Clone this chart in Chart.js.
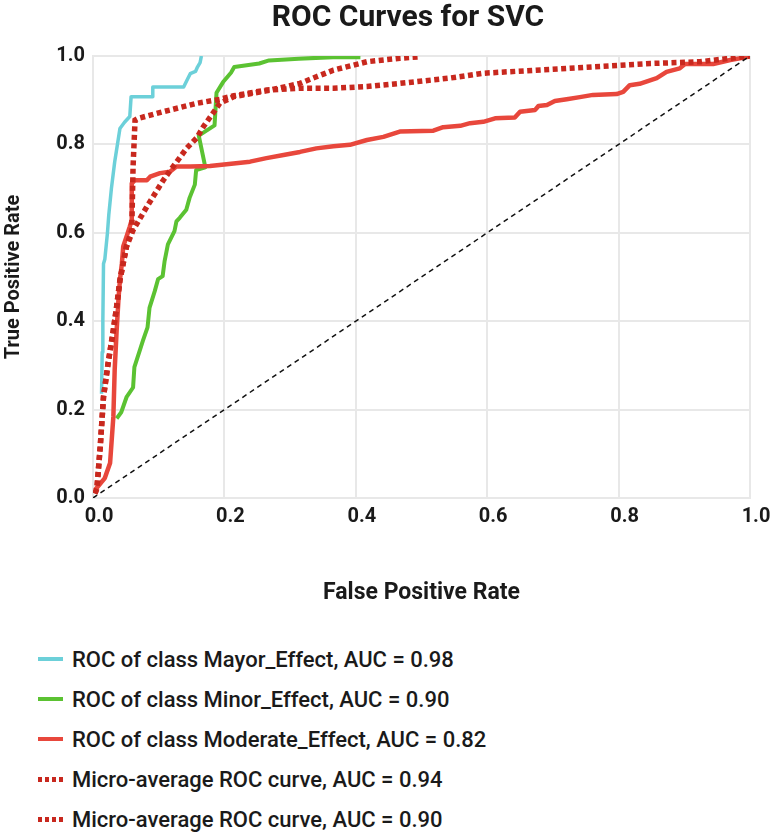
<!DOCTYPE html>
<html>
<head>
<meta charset="utf-8">
<title>ROC Curves for SVC</title>
<script src="https://cdn.jsdelivr.net/npm/chart.js@4.4.0/dist/chart.umd.min.js"></script>
<style>
  body { margin: 0; background: #fff; font-family: Roboto, sans-serif; }
  #wrap { position: relative; width: 780px; height: 833px; }
  #legend { position: absolute; left: 38px; top: 639px; }
  .item { display: flex; align-items: center; height: 40px; }
  .swatch { width: 25px; margin-right: 9px; }
  .item span { font-size: 22px; font-weight: 500; color: #1a1a1a; white-space: nowrap; }
</style>
</head>
<body>
<div id="wrap">
  <canvas id="roc" width="780" height="620"></canvas>
  <div id="legend"></div>
</div>
<script>
// valores (FPR / TPR)
const mayorFpr = [0.013, 0.014, 0.015, 0.016, 0.018, 0.022, 0.024, 0.028, 0.033, 0.041, 0.048, 0.056, 0.058, 0.091, 0.091, 0.138, 0.143, 0.148, 0.156, 0.159, 0.163, 0.165];
const mayorTpr = [0.236, 0.33, 0.40, 0.53, 0.54, 0.60, 0.64, 0.70, 0.76, 0.836, 0.85, 0.863, 0.908, 0.908, 0.93, 0.93, 0.945, 0.96, 0.965, 0.975, 0.985, 1.0];

const minorFpr = [0.036, 0.043, 0.051, 0.061, 0.063, 0.071, 0.076, 0.083, 0.086, 0.094, 0.099, 0.106, 0.109, 0.114, 0.124, 0.127, 0.132, 0.142, 0.147, 0.155, 0.157, 0.171, 0.161, 0.185, 0.188, 0.198, 0.21, 0.215, 0.253, 0.268, 0.313, 0.374, 0.407];
const minorTpr = [0.18, 0.194, 0.228, 0.25, 0.296, 0.333, 0.356, 0.386, 0.43, 0.468, 0.495, 0.502, 0.536, 0.574, 0.604, 0.626, 0.634, 0.652, 0.679, 0.709, 0.742, 0.748, 0.82, 0.843, 0.917, 0.941, 0.962, 0.975, 0.983, 0.99, 0.994, 0.998, 0.997];

const moderateFpr = [0.003, 0.018, 0.026, 0.031, 0.033, 0.036, 0.039, 0.041, 0.044, 0.046, 0.051, 0.056, 0.059, 0.059, 0.064, 0.082, 0.087, 0.102, 0.117, 0.127, 0.148, 0.178, 0.214, 0.239, 0.264, 0.29, 0.315, 0.34, 0.366, 0.391, 0.417, 0.442, 0.467, 0.518, 0.533, 0.559, 0.574, 0.594, 0.612, 0.642, 0.65, 0.673, 0.678, 0.691, 0.703, 0.721, 0.741, 0.761, 0.797, 0.807, 0.817, 0.832, 0.858, 0.873, 0.893, 0.901, 0.944, 0.97, 0.997, 1.0];
const moderateTpr = [0.018, 0.045, 0.079, 0.184, 0.29, 0.38, 0.455, 0.493, 0.531, 0.569, 0.591, 0.614, 0.629, 0.712, 0.719, 0.719, 0.727, 0.735, 0.738, 0.75, 0.75, 0.751, 0.757, 0.761, 0.769, 0.776, 0.783, 0.791, 0.796, 0.799, 0.81, 0.817, 0.829, 0.831, 0.839, 0.842, 0.848, 0.851, 0.859, 0.861, 0.874, 0.878, 0.887, 0.889, 0.898, 0.902, 0.907, 0.912, 0.914, 0.919, 0.934, 0.937, 0.95, 0.964, 0.972, 0.982, 0.982, 0.991, 0.998, 1.0];

const microAFpr = [0.003, 0.006, 0.011, 0.016, 0.023, 0.031, 0.036, 0.041, 0.046, 0.051, 0.059, 0.061, 0.064, 0.069, 0.107, 0.158, 0.193, 0.214, 0.264, 0.315, 0.366, 0.417, 0.467, 0.543, 0.594, 0.721, 0.848, 0.924, 1.0];
const microATpr = [0.01, 0.022, 0.116, 0.229, 0.305, 0.38, 0.433, 0.493, 0.531, 0.569, 0.606, 0.75, 0.855, 0.859, 0.874, 0.893, 0.902, 0.91, 0.923, 0.927, 0.927, 0.931, 0.938, 0.95, 0.961, 0.972, 0.983, 0.987, 1.0];

const microBFpr = [0.003, 0.006, 0.011, 0.016, 0.023, 0.031, 0.036, 0.041, 0.046, 0.051, 0.061, 0.082, 0.107, 0.122, 0.143, 0.158, 0.168, 0.18, 0.193, 0.214, 0.264, 0.315, 0.34, 0.366, 0.417, 0.467, 0.498];
const microBTpr = [0.01, 0.022, 0.116, 0.229, 0.305, 0.38, 0.433, 0.493, 0.531, 0.569, 0.606, 0.659, 0.719, 0.75, 0.792, 0.815, 0.84, 0.865, 0.893, 0.908, 0.921, 0.938, 0.953, 0.968, 0.987, 0.995, 0.998];

const chanceFpr = [0, 1];
const chanceTpr = [0, 1];

const axisTicks = [0, 0.2, 0.4, 0.6, 0.8, 1.0];
const chartTitle = 'ROC Curves for SVC';

const txtColor = '#1a1a1a';
const gridColor = '#e8e8e8';

function pts(xs, ys) {
  return xs.map((x, i) => ({ x: x, y: ys[i] }));
}

const seriesDefs = [
  { label: 'ROC of class Mayor_Effect, AUC = 0.98', fpr: mayorFpr, tpr: mayorTpr, color: '#6cd0d9', width: 3.5, dash: [] },
  { label: 'ROC of class Minor_Effect, AUC = 0.90', fpr: minorFpr, tpr: minorTpr, color: '#5bc232', width: 4, dash: [] },
  { label: 'ROC of class Moderate_Effect, AUC = 0.82', fpr: moderateFpr, tpr: moderateTpr, color: '#e8473c', width: 4.5, dash: [] },
  { label: 'Micro-average ROC curve, AUC = 0.94', fpr: microAFpr, tpr: microATpr, color: '#c8281e', width: 5.5, dash: [5, 3.5] },
  { label: 'Micro-average ROC curve, AUC = 0.90', fpr: microBFpr, tpr: microBTpr, color: '#c8281e', width: 5.5, dash: [5, 3.5] }
];

const datasets = seriesDefs.map((s, i) => ({
  label: s.label,
  data: pts(s.fpr, s.tpr),
  showLine: true,
  borderColor: s.color,
  backgroundColor: s.color,
  borderWidth: s.width,
  borderDash: s.dash,
  borderCapStyle: 'butt',
  borderJoinStyle: s.dash.length ? 'miter' : 'round',
  pointRadius: 0,
  tension: 0,
  fill: false,
  order: 10 - i
}));

// linea de azar (diagonal)
datasets.push({
  label: 'chance',
  data: pts(chanceFpr, chanceTpr),
  showLine: true,
  borderColor: '#111',
  borderWidth: 1.5,
  borderDash: [5, 4],
  pointRadius: 0,
  fill: false,
  order: 0
});

// titulo dibujado a mano (centrado como en la figura original)
const titlePlugin = {
  id: 'svcTitle',
  afterDraw(chart) {
    const c = chart.ctx;
    c.save();
    c.font = 'bold 30px Roboto';
    c.fillStyle = txtColor;
    c.textAlign = 'center';
    c.textBaseline = 'middle';
    c.fillText(chartTitle, 408, 18);
    c.restore();
  }
};

const tickFont = { family: 'Roboto', size: 20, weight: 'bold' };

const ctx = document.getElementById('roc').getContext('2d');
const chart = new Chart(ctx, {
  type: 'scatter',
  data: { datasets: datasets },
  plugins: [titlePlugin],
  options: {
    animation: false,
    responsive: false,
    layout: { padding: { left: 0, right: 30, top: 56, bottom: 0 } },
    plugins: {
      legend: { display: false },
      tooltip: { enabled: false },
      title: { display: false }
    },
    scales: {
      x: {
        type: 'linear',
        min: 0,
        max: 1,
        afterBuildTicks: (scale) => { scale.ticks = axisTicks.map(v => ({ value: v })); },
        afterFit: (scale) => { scale.height = 122; },
        ticks: {
          color: txtColor,
          font: tickFont,
          padding: 7,
          labelOffset: 6,
          callback: (v) => Number(v).toFixed(1)
        },
        grid: { color: gridColor, lineWidth: 2, drawTicks: false },
        border: { display: true, color: gridColor, width: 2 },
        title: {
          display: true,
          text: 'False Positive Rate',
          color: txtColor,
          font: { family: 'Roboto', size: 23, weight: 'bold' },
          padding: { top: 0, bottom: 13 }
        }
      },
      y: {
        type: 'linear',
        min: 0,
        max: 1,
        afterBuildTicks: (scale) => { scale.ticks = axisTicks.map(v => ({ value: v })); },
        afterFit: (scale) => { scale.width = 93; },
        ticks: {
          color: txtColor,
          font: tickFont,
          padding: 8,
          callback: (v) => Number(v).toFixed(1)
        },
        grid: { color: gridColor, lineWidth: 2, drawTicks: false },
        border: { display: true, color: gridColor, width: 2 },
        title: {
          display: true,
          text: 'True Positive Rate',
          color: txtColor,
          font: tickFont,
          padding: { top: 2, bottom: 0 }
        }
      }
    }
  }
});

// leyenda debajo del grafico
const legendEl = document.getElementById('legend');
seriesDefs.forEach((s) => {
  const row = document.createElement('div');
  row.className = 'item';
  const sw = document.createElement('div');
  sw.className = 'swatch';
  if (s.dash.length) {
    sw.style.height = '5px';
    sw.style.background = `repeating-linear-gradient(to right, ${s.color} 0 4px, transparent 4px 7px)`;
  } else {
    sw.style.height = '4px';
    sw.style.background = s.color;
  }
  const txt = document.createElement('span');
  txt.textContent = s.label;
  row.appendChild(sw);
  row.appendChild(txt);
  legendEl.appendChild(row);
});
</script>
</body>
</html>
